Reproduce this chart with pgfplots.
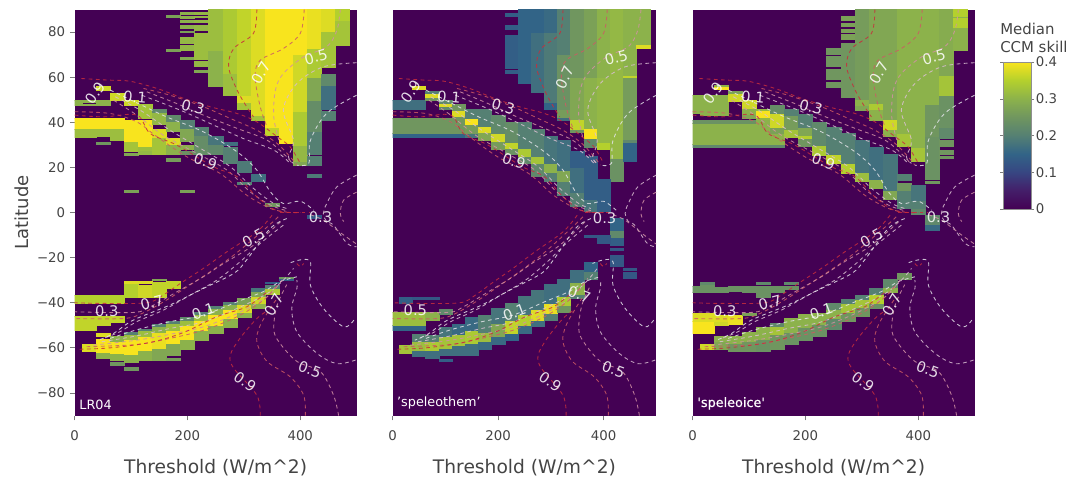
\documentclass[border=0pt]{standalone}
\usepackage{fontspec}
\setmainfont{DejaVu Sans}
\newfontfamily\fakebold[FakeBold=0.7]{DejaVu Sans}
\usepackage{pgfplots}
\usepackage{pgfplotstable}
\pgfplotsset{compat=1.18}
\pgfdeclarelayer{front}
\pgfsetlayers{main,front}
\definecolor{bgv}{RGB}{68,1,84}
\definecolor{txt}{RGB}{68,68,68}
\definecolor{cA}{RGB}{228,228,234}
\definecolor{cB}{RGB}{218,190,210}
\definecolor{cC}{RGB}{210,145,165}
\definecolor{cD}{RGB}{205,90,100}
\definecolor{cE}{RGB}{200,45,60}
\pgfplotsset{colormap={ccm}{rgb255=(68,1,84) rgb255=(68,30,105) rgb255=(55,70,130) rgb255=(50,100,135) rgb255=(85,128,115) rgb255=(112,150,95) rgb255=(140,178,75) rgb255=(180,208,45) rgb255=(248,228,30)}}
\newlength\cellw
\pgfdeclareplotmark{cell}{%
  \pgfpathrectangle{\pgfpoint{-\cellw}{-\pgfplotmarksize}}{\pgfpoint{2\cellw}{2\pgfplotmarksize}}%
  \pgfusepathqfillstroke}
\pgfplotstableread{
x y1 y2 v
175 86.8 87.6 .27
175 71.7 72.5 .27
200 87.9 88.9 .3
200 86.3 87 .3
200 84.2 85.3 .3
200 81.6 83 .3
200 79.8 80.5 .27
200 74.9 77.9 .31
200 72 74.2 .31
200 68.1 69 .28
225 88 88.9 .31
225 86.5 87 .31
225 84.5 85.5 .31
225 81 83 .31
225 67.8 79.4 .32
225 65 67.1 .31
225 62.1 63.1 .28
250 56 72 .3
250 72 90 .32
275 52 62 .32
275 62 90 .34
300 46 49 .33
300 49 52 .38
300 52 90 .36
325 41 43 .33
325 43 48 .38
325 48 90 .38
350 34.3 38 .36
350 38 42 .4
350 42 60 .41
350 60 90 .4
375 30.6 35 .41
375 35 60 .4
375 60 90 .41
400 21 23 .28
400 23 30 .31
400 30 45 .34
400 45 70 .37
400 70 90 .4
425 21 25 .2
425 25.7 36 .2
425 36 50 .23
425 50 60 .28
425 60 73 .34
425 73 90 .39
425 15.5 17 .19
450 80 90 .38
450 64.5 80 .33
450 56 61.5 .22
450 46 56 .17
450 42.5 45 .2
450 41 42 .2
475 85 90 .35
475 74 85 .33
0 47.6 50 .3
0 37 42 .4
0 33.5 37 .32
25 49 50 .3
25 47.6 48 .3
25 37 42 .4
25 33.5 37 .32
50 47.6 50 .3
50 54.3 56 .37
50 37 42 .4
50 34 37 .32
50 30.4 31.2 .25
75 50 53 .37
75 37 42 .4
75 32 37 .32
100 47.5 50 .37
100 31 41 .4
100 27 31 .33
100 25.5 26.2 .28
125 42 48 .33
125 29 41 .4
125 27.5 29 .32
125 26 27 .31
150 44 46 .22
150 39 44 .31
150 33 37 .38
150 26 33 .33
175 40 43 .22
175 36 40 .3
175 30 33 .38
175 26 30 .3
175 23 24 .26
200 37 41 .2
200 31.5 37 .28
200 28 30 .3
200 26 27 .24
225 34 38 .2
225 26 34 .23
250 30 34 .18
250 26 30 .22
275 30 31 .17
275 25 29 .2
275 22 25 .2
300 18 23 .19
300 12.5 13.5 .2
325 14 17 .17
100 9 10 .27
200 9 10 .27
350 2.8 4 .25
425 -2.7 -1.2 .13
0 -40.3 -36.6 .35
25 -40.3 -36.6 .35
50 -40.3 -36.6 .35
75 -40.3 -36.6 .35
100 -37.4 -31 .35
125 -37.4 -32 .37
125 -31.4 -30.4 .38
150 -37.4 -31 .36
150 -30 -29.6 .28
175 -33.4 -30.5 .36
100 -31.4 -30.4 .38
0 -52 -46 .36
25 -52 -46 .36
50 -50 -46 .36
75 -48.6 -46 .36
25 -61.4 -58.5 .38
50 -54.6 -53.6 .38
50 -64.4 -62 .3
50 -62 -56 .4
75 -65.4 -62.5 .3
75 -62.5 -57 .4
75 -57 -55 .3
75 -67.5 -66.5 .25
100 -66.5 -63 .3
100 -63 -56 .4
100 -56 -54 .32
100 -54 -52.9 .2
100 -70 -68.5 .25
125 -65.4 -61 .3
125 -61 -55 .4
125 -55 -52 .32
125 -52 -51.7 .2
150 -65.4 -60 .28
150 -60 -53 .39
150 -53 -50.5 .3
150 -50.5 -49.6 .2
175 -63.3 -58 .28
175 -58 -52 .4
175 -52 -49 .32
175 -49 -48 .2
175 -65.4 -64.5 .26
200 -60.6 -56 .3
200 -56 -50 .4
200 -50 -47.5 .32
200 -47.5 -46.5 .22
225 -56.6 -52 .3
225 -52 -47.5 .4
225 -47.5 -45 .32
225 -45 -44 .2
250 -53.6 -50 .3
250 -50 -45 .4
250 -45 -42.5 .3
250 -42.5 -41.5 .2
275 -50.7 -47 .3
275 -47 -43 .4
275 -43 -40.5 .3
275 -40.5 -39.6 .2
300 -46.2 -44 .3
300 -44 -40.5 .38
300 -40.5 -37.8 .27
325 -42.5 -40 .3
325 -40 -37 .37
325 -37 -35 .28
325 -35 -33.7 .18
350 -36 -33.5 .34
350 -33.5 -32 .2
350 -31.5 -30.8 .14
375 -30 -29.2 .14
375 -29 -28.5 .25
}\tblA
\pgfplotstableread{
x y1 y2 v
225 87 88.5 .14
225 81.5 83 .14
225 64 78.5 .14
225 62 63.2 .14
250 57.2 90 .15
275 53.2 80 .17
275 80 90 .15
300 46 49 .15
300 49 80 .19
300 80 90 .16
325 41 42 .17
325 42.5 46 .26
325 46 70 .24
325 70 90 .2
350 35.5 37 .25
350 37 41.5 .36
350 41.5 60 .28
350 60 90 .25
375 29 33 .22
375 33 36.5 .4
375 36.5 37.5 .4
375 37.5 60 .3
375 60 90 .27
400 28 31 .35
400 31 60 .31
400 60 90 .3
425 14 24 .24
425 24 60 .31
425 60 90 .31
450 23 31 .15
450 31 32.5 .22
450 32.5 60 .26
450 60 61 .36
450 61 90 .3
475 73 74.5 .38
475 74.5 90 .3
0 46 50 .17
25 46 50 .17
50 46 50 .17
0 33.5 35 .15
0 35 42 .25
25 33.5 35 .15
25 35 42 .25
50 33.5 35 .15
50 35 42 .25
75 33.5 35 .15
75 35 42 .25
100 33.5 35 .15
100 35 42 .25
125 33.5 35 .15
125 35 41 .25
50 54.5 56 .38
75 50 52 .25
75 51 53 .38
75 53 54 .2
100 46 50 .22
100 47 48.2 .38
125 41 48 .25
125 42.6 45 .38
150 33.5 35 .18
150 35 39 .26
150 39 42 .4
150 42 46 .2
175 32 35 .28
175 35.5 38.5 .38
175 38.5 46 .2
200 28 32 .26
200 31.5 35 .37
200 35 43 .22
225 26 28.5 .24
225 28.5 31 .36
225 31 40 .23
250 22 25 .22
250 25 28.5 .34
250 28.5 40 .2
275 16 22 .22
275 22 25 .33
275 25 37 .2
300 14 18 .2
300 18 22 .3
300 22 34 .18
325 7.5 14 .2
325 14 19 .28
325 19 32 .17
350 3 9 .2
350 9 20 .17
350 20 27 .14
375 0.5 6 .18
375 6 25 .14
400 0.5 15 .14
0 -52 -50 .15
0 -50 -44 .32
25 -52 -50 .15
25 -50 -44 .32
50 -52 -50 .15
50 -50 -44 .32
75 -47.5 -44 .3
100 -45 -43 .22
25 -40 -37.5 .14
50 -38.2 -37.5 .13
75 -38.2 -37.5 .13
425 -14.5 -11 .14
425 -11 -8 .22
425 -8 -2.7 .15
425 -16.5 -15.7 .13
425 -23.6 -19 .13
400 -13.7 -10 .13
375 -11 -10 .13
450 -25.4 -24.5 .13
450 -29 -26.3 .13
25 -62.5 -58.7 .33
50 -63.5 -61 .17
50 -61 -57 .32
50 -57 -54 .2
75 -64.4 -61 .17
75 -61 -57 .34
75 -57 -54.3 .2
100 -63.2 -60 .17
100 -60 -55 .33
100 -55 -51 .18
100 -66 -65 .14
125 -63.2 -59 .17
125 -59 -54 .33
125 -54 -49.6 .16
150 -63.2 -58 .17
150 -58 -52 .34
150 -52 -46.5 .16
175 -60.5 -57 .16
175 -57 -53 .32
175 -53 -45.5 .2
200 -58.5 -55 .16
200 -55 -49 .28
200 -49 -42.5 .18
225 -56.6 -53.5 .15
225 -53.5 -47.5 .36
225 -47.5 -40.3 .2
250 -53.6 -50 .16
250 -50 -45 .35
250 -45 -37 .18
275 -50.2 -47.5 .17
275 -47.5 -43 .38
275 -43 -34.4 .18
300 -47.7 -44.5 .2
300 -44.5 -40 .39
300 -40 -31.7 .17
325 -44.3 -41 .25
325 -41 -37 .34
325 -37 -29.5 .17
350 -38 -36 .2
350 -36 -31 .3
350 -31 -25.5 .17
375 -29.5 -26 .2
375 -26 -22 .15
}\tblB
\pgfplotstableread{
x y1 y2 v
250 70 73 .25
250 65 69.5 .25
250 59 63.5 .25
250 55.5 57.7 .25
275 85.5 87.2 .27
275 82.5 84 .27
275 80 81.5 .27
275 77 79 .27
275 51 75 .25
300 50 90 .26
300 47.5 50 .3
300 45.5 47 .28
325 41 46 .3
325 46 48.5 .34
325 48.5 90 .28
350 34 37 .3
350 37 41.5 .37
350 41.5 90 .28
375 29.5 35 .33
375 35 90 .3
400 23 29 .33
400 29 90 .3
425 13 14 .25
425 15 24 .24
425 24 34 .24
425 34 48 .25
425 48 90 .3
450 29.5 32 .25
450 26 27.5 .25
450 24 25 .25
450 33 38 .22
450 38 52 .24
450 52 61 .33
450 61 66 .28
450 66 90 .29
475 72 87 .3
475 82 86 .35
475 87 90 .35
0 44 52 .3
25 44 52 .3
50 44 52 .3
25 43.2 44 .3
50 43.2 44 .3
0 29 30.5 .22
0 30.5 39.5 .3
0 39.5 41 .24
25 29 30.5 .22
25 30.5 39.5 .3
25 39.5 41 .24
50 29 30.5 .22
50 30.5 39.5 .3
50 39.5 41 .24
75 29 30.5 .22
75 30.5 39.5 .3
75 39.5 41 .24
100 29 30.5 .22
100 30.5 39.5 .3
100 39.5 41 .24
125 29 30.5 .22
125 30.5 39.5 .3
125 39.5 41 .24
150 29 30.5 .22
150 30.5 35 .3
150 35 38 .27
50 54.5 56 .4
50 56 56.5 .3
75 49.5 53 .37
75 53 54 .27
100 46 50 .37
100 43 46 .3
100 42 43 .28
125 41.5 46 .31
125 42.5 45 .4
125 39.5 41 .3
150 38 44 .37
150 44 47.5 .23
175 33.5 37 .33
175 37 43 .26
175 43 46 .2
200 29.5 33 .25
200 33 34.5 .35
200 34.5 38 .28
200 38 43.5 .2
225 25.5 30 .34
225 30 40 .22
250 22 26 .36
250 26 38 .2
275 17.5 22 .35
275 22 35 .2
300 14 18 .32
300 18 32 .18
325 11 15 .3
325 15 29 .17
350 6 10 .28
350 10 26 .18
375 3.5 10 .2
375 10 13 .25
375 14.5 17 .2
400 4 12 .18
400 0 2.5 .2
400 3 5 .2
25 -34 -32 .24
25 -31.6 -31 .22
125 -31.6 -31 .22
175 -31.6 -31 .22
0 -35.5 -32.5 .24
25 -35.5 -33 .24
50 -35.5 -33 .24
75 -34.8 -32.5 .24
100 -35.5 -32.5 .24
125 -37.4 -32.5 .24
150 -35.5 -32.5 .24
175 -34 -32.5 .24
0 -53.5 -48 .4
0 -48 -44.5 .38
25 -53.5 -48 .4
25 -48 -44.5 .38
50 -50 -48 .37
50 -48 -45.5 .38
75 -49.5 -45.5 .39
100 -45.5 -44.5 .27
25 -60.5 -58.5 .37
50 -60.5 -57 .28
50 -57 -55 .3
75 -61.5 -58 .25
75 -58 -55 .3
100 -61.5 -57 .25
100 -57 -53 .3
125 -61.5 -56 .24
125 -56 -51 .3
150 -60.5 -54 .25
150 -54 -50.5 .33
150 -50.5 -49 .22
175 -58.5 -53 .24
175 -53 -47 .3
200 -56.6 -51 .24
200 -51 -45 .3
225 -54.6 -49.5 .24
225 -49.5 -44.5 .3
250 -51.7 -47 .22
250 -47 -43 .3
250 -43 -40.3 .22
275 -48.2 -44 .25
275 -44 -40 .33
275 -40 -38.4 .2
300 -45.8 -42 .25
300 -42 -38.5 .33
300 -38.5 -36.6 .2
325 -42.5 -40 .24
325 -40 -36 .35
325 -36 -33.7 .2
350 -35.5 -33 .3
350 -33 -29.5 .22
375 -29.5 -27 .25
425 -8 -5 .16
425 -5 -1 .22
400 -0.5 1.5 .22
375 2 3.5 .2
}\tblC
\newcommand\contours{%
\addplot[cA] coordinates {(63,54.3)(113,48.3)(163,42.4)(228,35.8)(288,26.9)(323,18.8)(347,9.2)(370,4)(400,5)(424,1)};
\addplot[cB] coordinates {(72,51.3)(116,45.4)(169,36.5)(228,27.7)(276,20.3)(317,10.7)(353,4)(376,1.8)};
\addplot[cC] coordinates {(69,49.8)(110,43.2)(157,34.3)(217,26.2)(270,18.8)(311,9.2)(347,3.3)(376,.8)};
\addplot[cD] coordinates {(0,44.7)(63,43.9)(110,40.2)(146,33.6)(199,24.7)(258,17.3)(305,7.7)(347,1.8)(376,.2)};
\addplot[cE] coordinates {(0,43.2)(51,42.4)(110,43.2)(134,35)(181,29.9)(246,20.3)(288,15.9)(323,7)(359,.8)(400,0)};
\addplot[cE] coordinates {(12,59.4)(60,58.7)(98,58.2)(146,55)(193,50.6)(240,46.9)(288,43.9)(323,40.2)(359,33.6)(382,29.1)(400,21.8)};
\addplot[cD] coordinates {(122,55)(169,52)(228,46.9)(276,41.7)(323,36.5)(359,30.6)(382,24.7)(394,21)};
\addplot[cC] coordinates {(128,53.5)(181,48.3)(228,43.2)(288,37.3)(341,32.1)(376,24.7)(385,21.8)};
\addplot[cB] coordinates {(119,52)(187,45.4)(240,39.5)(299,32.8)(353,27.7)(382,21.8)};
\addplot[cE] coordinates {(323,90)(317,79.4)(282,72.7)(273,64.6)(288,54.3)(305,46.9)(317,42.4)};
\addplot[cD] coordinates {(407,90)(400,79.4)(370,72.7)(329,67.5)(320,60.2)(329,46.9)(341,38)};
\addplot[cC] coordinates {(471,90)(465,80.8)(447,73.5)(406,69)(370,61.6)(356,54.3)(353,42.4)(362,32.1)};
\addplot[cB] coordinates {(500,66.4)(441,64.6)(394,57.2)(370,45.4)(388,32)(379,24.7)(388,21.8)};
\addplot[cA] coordinates {(500,52)(447,44)(418,32)(415,21.8)(394,21)};
\addplot[cB] coordinates {(500,16.6)(465,11.4)(447,4)(441,-.4)(447,-4)(459,-5.6)(483,-13.7)(500,-15.2)};
\addplot[cC] coordinates {(500,9)(477,5.5)(471,-.4)(477,-4)};
\addplot[cE] coordinates {(350,-1.2)(323,-8.6)(270,-17.4)(228,-24.8)(187,-31.5)(157,-36.6)(128,-40)(51,-40.3)(0,-40)};
\addplot[cD] coordinates {(361,-1.9)(335,-7.8)(282,-18.9)(240,-26.3)(199,-33)(163,-38.8)(119,-44.8)(86,-47)(0,-47)};
\addplot[cC] coordinates {(365,-4.1)(317,-14.5)(264,-22.6)(228,-28.5)(181,-35.2)(134,-41.8)(104,-44.3)(0,-44)};
\addplot[cB] coordinates {(370,-5.6)(329,-13.7)(293,-21.9)(252,-30)(205,-36.6)(157,-43.3)(110,-48.4)(80,-52.9)(51,-55.8)};
\addplot[cA] coordinates {(376,-2.7)(347,-7)(305,-21)(282,-27)(228,-33.7)(169,-41)(104,-47.7)(69,-53.6)(42,-56.6)};
\addplot[cA] coordinates {(63,-55.8)(110,-52)(169,-48.4)(228,-45.5)(288,-39.6)(335,-35)(364,-30.7)(394,-28.5)};
\addplot[cB] coordinates {(48,-57.3)(110,-54.7)(169,-51.4)(228,-48.5)(288,-42.5)(341,-36)(370,-30)(388,-24.8)};
\addplot[cC] coordinates {(33,-58.8)(110,-56.6)(169,-54)(228,-50.7)(288,-44.8)(341,-37.4)(370,-29.2)};
\addplot[cD] coordinates {(21,-59.5)(110,-58.5)(169,-55.8)(228,-52.2)(288,-46.2)(335,-38.8)(362,-31.5)};
\addplot[cE] coordinates {(9,-60.6)(63,-60)(134,-57.6)(193,-53.2)(252,-46.2)(305,-41.8)(341,-35.2)};
\addplot[cE] coordinates {(329,-90)(323,-81)(282,-69)(276,-63.2)(293,-55.8)(323,-47)(341,-43.7)};
\addplot[cD] coordinates {(409,-90)(406,-81)(382,-72.8)(341,-66)(323,-57.3)(329,-50)(347,-42.5)(359,-38)};
\addplot[cC] coordinates {(468,-90)(459,-81)(436,-70.6)(394,-66)(362,-57.3)(353,-51.4)(359,-41)(376,-32)};
\addplot[cB] coordinates {(498,-65.4)(465,-67)(430,-62.5)(394,-52.9)(385,-42.5)(394,-33.7)(394,-30)};
\addplot[cA] coordinates {(495,-47.7)(477,-50.7)(441,-42.5)(418,-32.2)(418,-21.9)(400,-21)(379,-22.6)};
\addplot[cE] coordinates {(394,-22.6)(400,-24)(406,-22.6)};
\addplot[cE,line width=1pt] coordinates {(364,0)(418,0)};
\addplot[cC] coordinates {(418,-1)(441,-3.4)(477,-10)(500,-14)};
}
\pgfplotsset{panel/.style={
  scale only axis,height=304.5pt,xmin=0,xmax=500,ymin=-90,ymax=90,
  axis background/.style={fill=bgv},
  axis line style={draw=none},
  clip marker paths=true,
  colormap name=ccm,point meta min=0,point meta max=.4,
  xtick={0,200,400},xticklabels={0,200,400},tick align=outside,major tick length=3.6pt,
  xtick pos=bottom,ytick pos=left,
  tick style={color=txt!70,line width=.6pt},
  tick label style={font=\fontsize{10}{12}\selectfont,text=txt},
  xticklabel style={yshift=-4.5pt},
  xlabel={Threshold (W/m\textasciicircum2)},
  xlabel style={font=\fontsize{14}{16}\selectfont,text=txt,at={(axis description cs:.5,0)},anchor=north,yshift=-29.5pt},
}}
\pgfplotsset{over/.style={
  scale only axis,height=304.5pt,xmin=0,xmax=500,ymin=-90,ymax=90,
  hide axis,
  every axis plot/.append style={smooth,tension=.55,no markers,line width=.65pt,opacity=.85,dash pattern=on 2.8pt off 2.6pt},
}}
\pgfplotsset{heatcells/.style={scatter,only marks,mark=cell,scatter src=explicit,
  scatter/use mapped color={draw=mapped color,fill=mapped color},
  mark options={line width=.2pt},
  visualization depends on={(\thisrow{y2}-\thisrow{y1})*.8458 \as \hh},
  scatter/@pre marker code/.append style={/tikz/mark size=\hh}}}
\tikzset{lab/.style={text=white,opacity=.85,text opacity=.85,font=\fontsize{11}{12}\selectfont,inner sep=0pt}}
\begin{document}
\begin{tikzpicture}
\path[use as bounding box] (0,0) rectangle (812.25pt,357.75pt);
\begin{pgfonlayer}{front}
\begin{axis}[over,at={(56pt,46.1pt)},anchor=south west,width=211.5pt]
\contours
\node[lab,rotate=55] at (axis cs:36,53) {0.9};
\node[lab,rotate=-5] at (axis cs:107,51) {0.1};
\node[lab,rotate=-15] at (axis cs:210,46.8) {0.3};
\node[lab,rotate=60] at (axis cs:330,62) {0.7};
\node[lab,rotate=15] at (axis cs:428,69) {0.5};
\node[lab,rotate=-20] at (axis cs:232,22.5) {0.9};
\node[lab] at (axis cs:436,-2) {0.3};
\node[lab,rotate=30] at (axis cs:317,-11.5) {0.5};
\node[lab,rotate=15] at (axis cs:137,-40) {0.7};
\node[lab] at (axis cs:57,-43.7) {0.3};
\node[lab,rotate=20] at (axis cs:228,-44) {0.1};
\node[lab,rotate=60] at (axis cs:353,-41) {0.7};
\node[lab,rotate=-20] at (axis cs:417,-69.5) {0.5};
\node[lab,rotate=-35] at (axis cs:302,-75) {0.9};
\node[text=white,font=\fontsize{9.6}{11}\selectfont,anchor=south west,inner sep=0pt] at (axis cs:8,-87.5) {LR04};
\end{axis}
\begin{axis}[over,at={(294.5pt,46.1pt)},anchor=south west,width=197.7pt]
\contours
\node[lab,rotate=55] at (axis cs:34,53.5) {0.9};
\node[lab,rotate=-5] at (axis cs:107,51) {0.1};
\node[lab,rotate=-15] at (axis cs:210,47) {0.3};
\node[lab,rotate=65] at (axis cs:326,60) {0.7};
\node[lab,rotate=15] at (axis cs:424,68.7) {0.5};
\node[lab,rotate=-20] at (axis cs:230,22.8) {0.9};
\node[lab] at (axis cs:402,-2.3) {0.3};
\node[lab] at (axis cs:43,-43.5) {0.5};
\node[lab,rotate=20] at (axis cs:231,-44.3) {0.1};
\node[lab,rotate=-20] at (axis cs:354,-36.3) {0.7};
\node[lab,rotate=-20] at (axis cs:419,-69.5) {0.5};
\node[lab,rotate=-35] at (axis cs:299,-75) {0.9};
\node[text=white,font=\fontsize{9.6}{11}\selectfont,anchor=south west,inner sep=0pt] at (axis cs:8,-87.5) {'speleothem'};
\end{axis}
\begin{axis}[over,at={(519.5pt,46.1pt)},anchor=south west,width=211.5pt]
\contours
\node[lab,rotate=55] at (axis cs:36,53) {0.9};
\node[lab,rotate=-5] at (axis cs:107,51) {0.1};
\node[lab,rotate=-15] at (axis cs:210,46.8) {0.3};
\node[lab,rotate=60] at (axis cs:330,62) {0.7};
\node[lab,rotate=15] at (axis cs:428,69) {0.5};
\node[lab,rotate=-20] at (axis cs:232,22.5) {0.9};
\node[lab] at (axis cs:436,-2) {0.3};
\node[lab,rotate=30] at (axis cs:317,-11.5) {0.5};
\node[lab,rotate=15] at (axis cs:137,-40) {0.7};
\node[lab] at (axis cs:57,-43.7) {0.3};
\node[lab,rotate=20] at (axis cs:228,-44) {0.1};
\node[lab,rotate=60] at (axis cs:353,-41) {0.7};
\node[lab,rotate=-20] at (axis cs:417,-69.5) {0.5};
\node[lab,rotate=-35] at (axis cs:302,-75) {0.9};
\node[text=white,font=\fontsize{9.6}{11}\selectfont\fakebold,anchor=south west,inner sep=0pt] at (axis cs:8,-87.5) {'speleoice'};
\end{axis}
\end{pgfonlayer}
% heatmaps, drawn on the main layer beneath the contours
\global\cellw=5.29pt
\begin{axis}[panel,at={(56pt,46.1pt)},anchor=south west,width=211.5pt,
  ytick={-80,-60,-40,-20,0,20,40,60,80},
  yticklabels={−80,−60,−40,−20,0,20,40,60,80},
  ylabel={Latitude},
  ylabel style={font=\fontsize{13.5}{15}\selectfont,text=txt,at={(axis description cs:0,.5)},anchor=south,yshift=31pt}]
\addplot[heatcells] table[x=x,y expr=(\thisrow{y1}+\thisrow{y2})/2,meta=v] {\tblA};
\end{axis}
\global\cellw=4.94pt
\begin{axis}[panel,at={(294.5pt,46.1pt)},anchor=south west,width=197.7pt,ytick=\empty]
\addplot[heatcells] table[x=x,y expr=(\thisrow{y1}+\thisrow{y2})/2,meta=v] {\tblB};
\end{axis}
\global\cellw=5.29pt
\begin{axis}[panel,at={(519.5pt,46.1pt)},anchor=south west,width=211.5pt,ytick=\empty,
  colorbar,
  colorbar/width=21pt,
  colorbar style={at={(1.1005,.8707)},anchor=north west,width=21pt,height=110.25pt,
    ytick={0,.1,.2,.3,.4},yticklabels={0,0.1,0.2,0.3,0.4},
    axis line style={draw=txt!60,line width=.75pt},
    tick align=outside,major tick length=2.2pt,
    tick style={color=txt!70},
    ylabel={},
    yticklabel style={font=\fontsize{10}{12}\selectfont,text=txt,inner sep=1.2pt}}]
\addplot[heatcells] table[x=x,y expr=(\thisrow{y1}+\thisrow{y2})/2,meta=v] {\tblC};
\end{axis}
\node[anchor=west,inner sep=0pt,text=txt,font=\fontsize{11.2}{12}\selectfont] at (750pt,336pt) {Median};
\node[anchor=west,inner sep=0pt,text=txt,font=\fontsize{11.2}{12}\selectfont] at (750pt,322.5pt) {CCM skill};
\end{tikzpicture}
\end{document}
